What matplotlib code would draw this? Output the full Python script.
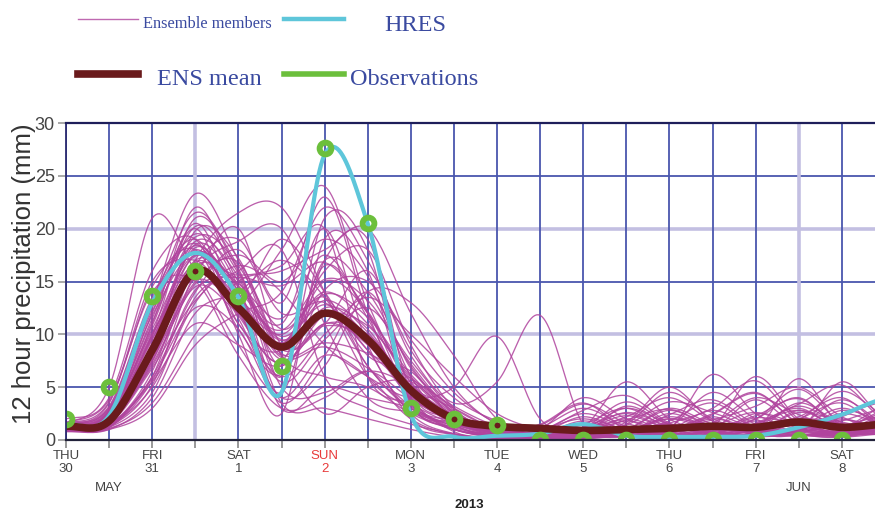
import numpy as np
import matplotlib
matplotlib.use("Agg")
import matplotlib.pyplot as plt
from matplotlib.lines import Line2D

# 12-hourly steps starting Thu 30 May 2013 00 UTC
steps = list(range(20))
tick_days = ["THU", "", "FRI", "", "SAT", "", "SUN", "", "MON", "", "TUE", "",
             "WED", "", "THU", "", "FRI", "", "SAT"]
tick_dates = ["30", "", "31", "", "1", "", "2", "", "3", "", "4", "",
              "5", "", "6", "", "7", "", "8"]
month_labels = [(1, "MAY"), (17, "JUN")]
year_label = "2013"

observations = [2.0, 5.0, 13.6, 16.0, 13.6, 7.0, 27.6, 20.5, 3.0, 2.0, 1.4,
                0.0, 0.0, 0.0, 0.0, 0.0, 0.0, 0.0, 0.0]
hres = [1.5, 2.3, 13.0, 17.7, 13.5, 4.5, 27.0, 20.5, 2.4, 0.3, 0.4, 0.6,
        1.5, 0.4, 0.3, 0.3, 0.4, 1.2, 2.4, 3.9]
ens_mean = [1.3, 1.8, 8.5, 16.0, 12.5, 8.8, 12.0, 9.5, 4.7, 2.0, 1.3, 1.1,
            0.9, 1.0, 1.1, 1.3, 1.2, 1.7, 1.2, 1.5]

members = [
    [1.2, 1.6, 9.0, 18.5, 14.0, 3.0, 5.0, 4.0, 3.0, 1.0, 0.3, 0.2, 0.5, 1.2, 0.8, 2.0, 1.0, 0.5, 0.8, 1.2],
    [1.0, 2.0, 12.0, 20.0, 11.0, 8.5, 15.0, 12.0, 4.0, 0.8, 0.1, 0.0, 0.3, 0.6, 2.5, 1.0, 0.4, 2.0, 1.5, 0.8],
    [1.5, 3.5, 15.0, 17.0, 13.5, 19.0, 14.0, 8.0, 6.5, 2.0, 0.5, 1.0, 2.0, 1.0, 0.5, 0.3, 1.5, 3.0, 1.0, 2.0],
    [0.9, 1.2, 6.0, 14.0, 18.0, 12.0, 13.0, 8.5, 5.0, 3.0, 1.0, 0.5, 0.2, 0.4, 1.0, 2.5, 4.5, 1.5, 0.5, 1.0],
    [1.3, 2.2, 10.0, 21.0, 16.0, 7.0, 17.0, 14.0, 7.0, 2.5, 0.8, 0.3, 1.0, 3.0, 1.5, 0.6, 0.8, 1.0, 2.5, 1.5],
    [2.0, 4.0, 16.0, 19.0, 10.0, 2.5, 19.0, 16.0, 3.5, 1.2, 0.5, 0.2, 0.1, 0.5, 0.8, 1.5, 0.5, 0.8, 0.3, 0.6],
    [1.0, 1.5, 5.0, 13.0, 16.5, 14.0, 9.0, 6.0, 4.0, 5.0, 9.8, 2.0, 0.5, 0.3, 1.2, 0.8, 2.0, 4.0, 1.0, 0.5],
    [1.1, 1.8, 7.5, 15.5, 20.0, 9.0, 11.0, 16.0, 8.0, 3.5, 5.5, 11.8, 1.5, 0.5, 0.2, 0.6, 1.0, 0.8, 1.8, 3.0],
    [1.4, 2.5, 11.0, 22.0, 15.0, 11.0, 20.0, 9.0, 2.5, 0.6, 0.2, 0.1, 0.4, 1.5, 4.5, 2.0, 0.8, 0.4, 0.6, 1.0],
    [0.8, 1.0, 4.0, 12.0, 14.0, 17.0, 13.5, 7.0, 3.0, 1.5, 0.8, 0.5, 1.2, 5.5, 2.0, 0.8, 0.3, 1.2, 2.0, 1.0],
    [1.6, 5.0, 21.0, 16.0, 9.0, 4.0, 8.0, 6.0, 2.0, 0.5, 0.1, 0.3, 0.8, 0.4, 1.0, 6.2, 2.5, 1.0, 0.4, 0.8],
    [1.2, 2.8, 13.0, 23.3, 17.0, 8.0, 6.0, 5.0, 2.5, 1.0, 0.4, 0.2, 0.2, 1.8, 0.6, 0.4, 1.0, 2.2, 4.0, 1.2],
    [1.0, 1.4, 6.5, 17.0, 21.5, 22.0, 14.0, 6.0, 3.0, 1.0, 0.5, 0.8, 1.5, 0.6, 0.3, 1.2, 6.0, 2.0, 0.8, 2.5],
    [1.3, 2.0, 8.0, 16.0, 13.0, 18.0, 24.0, 13.0, 5.0, 2.0, 1.0, 0.4, 0.3, 0.8, 1.5, 0.5, 0.3, 0.6, 1.5, 0.8],
    [0.9, 1.1, 3.5, 10.0, 15.0, 16.0, 18.0, 20.0, 12.0, 5.0, 1.5, 0.6, 0.5, 0.3, 0.7, 2.2, 1.0, 5.8, 1.2, 0.5],
    [1.4, 2.4, 9.5, 18.0, 11.5, 4.0, 7.0, 14.0, 13.0, 8.0, 2.0, 0.8, 0.4, 0.6, 2.2, 1.0, 0.5, 0.8, 5.5, 2.0],
    [1.1, 1.9, 7.0, 14.5, 12.0, 9.0, 16.0, 18.0, 9.0, 3.0, 0.6, 0.2, 1.2, 2.5, 1.0, 0.4, 2.5, 1.5, 0.6, 1.0],
    [1.5, 3.0, 12.5, 19.5, 14.5, 3.5, 3.0, 2.0, 1.0, 0.3, 0.1, 0.0, 0.2, 0.5, 1.8, 3.5, 1.2, 0.5, 0.3, 0.8],
    [1.0, 1.3, 5.5, 11.0, 9.0, 7.0, 11.0, 9.0, 4.0, 2.0, 0.8, 1.5, 3.5, 1.0, 0.4, 0.8, 1.5, 2.8, 1.0, 0.5],
    [1.2, 2.1, 10.5, 17.5, 13.0, 10.0, 14.0, 11.0, 6.0, 2.5, 1.2, 0.5, 0.4, 1.0, 3.0, 1.5, 0.6, 1.0, 2.2, 4.0],
    [1.7, 3.8, 14.0, 15.0, 8.0, 3.0, 4.0, 6.5, 5.0, 1.5, 0.3, 0.2, 0.6, 2.0, 0.8, 0.3, 0.8, 3.5, 1.5, 0.6],
    [0.9, 1.5, 6.0, 16.5, 19.0, 13.0, 23.0, 12.0, 3.5, 1.8, 0.6, 0.3, 0.8, 0.4, 1.2, 4.5, 2.0, 0.6, 0.3, 1.5],
    [1.3, 2.6, 11.5, 20.5, 12.5, 5.5, 9.5, 12.5, 7.5, 2.8, 0.9, 0.4, 0.2, 0.8, 0.5, 1.0, 3.8, 1.2, 0.8, 2.2],
    [1.1, 1.7, 7.8, 15.0, 17.5, 15.0, 19.0, 15.5, 6.0, 1.5, 0.4, 0.8, 2.5, 1.2, 0.6, 0.3, 1.0, 2.0, 3.5, 1.0],
    [1.4, 2.3, 9.8, 18.8, 15.5, 8.0, 12.5, 10.5, 4.5, 1.6, 0.7, 0.4, 1.0, 2.2, 4.0, 1.8, 0.6, 0.4, 1.0, 2.8],
    [1.0, 1.2, 4.5, 13.5, 16.0, 18.0, 6.0, 3.0, 1.5, 0.6, 0.2, 0.5, 1.8, 0.8, 0.4, 1.0, 2.0, 4.8, 1.6, 0.7],
    [1.6, 3.2, 13.5, 19.0, 12.0, 7.5, 16.5, 12.0, 5.5, 2.2, 1.0, 0.6, 0.3, 1.0, 2.8, 1.2, 0.8, 1.5, 0.5, 1.2],
    [1.2, 1.9, 8.5, 17.0, 14.5, 9.5, 12.0, 8.5, 2.0, 0.5, 0.3, 1.0, 4.0, 2.0, 0.6, 0.5, 1.8, 0.9, 2.8, 1.8],
    [0.8, 1.0, 3.0, 9.0, 12.0, 14.0, 22.0, 17.0, 8.5, 4.0, 1.8, 0.7, 0.5, 0.4, 1.0, 2.8, 1.2, 0.6, 0.4, 1.0],
    [1.3, 2.4, 10.0, 16.5, 11.0, 6.0, 10.0, 13.5, 10.0, 6.0, 2.5, 1.0, 0.6, 3.2, 1.4, 0.6, 0.4, 1.2, 3.0, 1.5],
    [1.1, 1.6, 7.2, 14.8, 16.8, 8.0, 2.5, 5.0, 5.5, 2.2, 0.8, 0.3, 0.5, 1.1, 0.7, 1.6, 4.0, 2.4, 0.9, 0.6],
    [1.5, 2.9, 12.8, 21.5, 16.5, 10.5, 13.5, 7.0, 2.8, 1.0, 0.2, 0.1, 0.3, 0.9, 2.0, 1.0, 0.5, 2.8, 1.3, 3.2],
    [1.0, 1.4, 5.8, 12.5, 10.5, 3.5, 8.0, 14.0, 6.8, 3.0, 1.1, 0.5, 1.4, 0.6, 0.3, 0.9, 1.4, 0.7, 1.9, 1.1],
    [1.2, 2.0, 9.2, 18.2, 13.8, 7.8, 8.8, 6.8, 3.2, 1.3, 0.5, 0.9, 2.8, 4.2, 1.6, 0.5, 0.3, 1.0, 0.6, 1.4],
    [1.4, 2.7, 11.8, 17.8, 14.8, 11.5, 17.5, 11.5, 3.8, 1.1, 0.3, 0.2, 0.7, 1.4, 3.6, 2.6, 1.1, 0.5, 0.8, 2.0],
    [0.9, 1.3, 5.2, 15.8, 18.8, 20.0, 11.0, 4.0, 2.6, 1.4, 0.9, 0.4, 0.2, 0.6, 1.1, 1.9, 3.2, 5.0, 2.2, 0.9],
    [1.3, 2.2, 9.6, 16.2, 12.8, 9.2, 13.2, 10.2, 5.2, 2.4, 0.9, 0.6, 1.6, 0.9, 0.5, 1.3, 2.6, 1.1, 0.5, 1.7],
    [1.1, 1.8, 8.2, 19.8, 17.2, 8.6, 10.8, 9.6, 4.8, 1.9, 0.6, 0.3, 0.9, 2.6, 1.3, 0.7, 0.5, 1.9, 4.6, 2.4],
    [1.6, 3.6, 14.5, 18.0, 10.5, 6.2, 14.2, 15.0, 9.5, 4.5, 1.6, 0.8, 0.4, 0.7, 2.4, 3.8, 1.5, 0.6, 0.4, 0.9],
    [1.0, 1.5, 6.8, 13.2, 15.2, 6.0, 21.0, 18.0, 3.6, 1.7, 0.7, 1.2, 3.0, 1.3, 0.6, 0.4, 1.2, 3.2, 1.4, 0.7],
    [1.2, 2.1, 9.9, 17.4, 14.2, 9.8, 12.8, 9.8, 4.2, 1.8, 0.6, 0.3, 0.6, 1.7, 5.0, 1.8, 0.7, 0.5, 1.1, 2.6],
    [1.4, 2.6, 10.8, 20.2, 15.8, 8.2, 9.2, 8.2, 5.8, 3.2, 1.3, 0.5, 0.3, 0.8, 1.6, 3.0, 5.6, 1.8, 0.7, 1.2],
    [1.0, 1.6, 7.4, 16.8, 13.4, 10.4, 15.2, 13.2, 7.2, 2.6, 0.8, 0.2, 1.1, 3.6, 1.5, 0.6, 0.4, 1.3, 3.8, 1.6],
    [1.3, 2.3, 10.2, 15.2, 12.2, 4.5, 17.0, 19.0, 4.6, 2.1, 0.9, 0.7, 2.2, 0.9, 0.4, 1.1, 2.3, 3.9, 1.2, 0.8],
    [1.5, 3.1, 13.2, 18.6, 11.8, 7.2, 11.8, 10.8, 5.8, 2.3, 0.7, 0.4, 0.8, 1.9, 2.9, 1.3, 0.6, 0.9, 2.4, 3.6],
    [1.1, 1.7, 7.6, 16.4, 15.6, 16.5, 20.0, 6.0, 3.4, 1.5, 0.4, 0.2, 0.5, 1.0, 0.6, 2.4, 4.4, 1.6, 0.6, 1.3],
    [1.2, 2.0, 8.8, 17.6, 14.6, 9.4, 13.8, 11.6, 6.2, 2.7, 1.0, 0.6, 1.5, 3.0, 1.1, 0.5, 0.7, 2.6, 1.7, 0.9],
    [1.3, 2.5, 11.2, 19.2, 16.2, 5.0, 4.5, 6.5, 3.9, 1.6, 0.5, 0.3, 0.4, 0.7, 2.0, 1.4, 0.9, 0.4, 1.3, 2.3],
    [0.9, 1.2, 5.6, 14.2, 15.4, 14.6, 16.8, 12.2, 5.4, 2.0, 0.6, 1.4, 3.4, 1.6, 0.7, 0.3, 1.6, 3.4, 5.2, 1.9],
    [1.4, 2.8, 12.2, 18.4, 13.6, 7.6, 11.0, 10.0, 4.9, 2.2, 0.8, 0.4, 0.9, 2.3, 1.0, 0.6, 2.1, 1.4, 0.6, 1.0],
]

y_ticks = [0, 5, 10, 15, 20, 25, 30]

C_MEMBER = "#b0449e"
C_HRES = "#5ec6da"
C_MEAN = "#6a1a1c"
C_OBS = "#6cbf3c"
C_GRID = "#4a56ae"
C_GRID_LIGHT = "#c3bfe2"
C_LEGEND = "#3a4aa0"
C_TICK = "#444444"


def smooth(vals, n=24):
    """Catmull-Rom curve through 12-hourly values."""
    v = np.asarray(vals, dtype=float)
    p = np.concatenate([[v[0]], v, [v[-1]]])
    t = np.linspace(0.0, 1.0, n, endpoint=False)
    h00 = 2 * t**3 - 3 * t**2 + 1
    h10 = t**3 - 2 * t**2 + t
    h01 = -2 * t**3 + 3 * t**2
    h11 = t**3 - t**2
    xs, ys = [], []
    for i in range(len(v) - 1):
        p0, p1, p2, p3 = p[i], p[i + 1], p[i + 2], p[i + 3]
        m1 = (p2 - p0) / 2.0
        m2 = (p3 - p1) / 2.0
        xs.append(i + t)
        ys.append(h00 * p1 + h10 * m1 + h01 * p2 + h11 * m2)
    xs.append([len(v) - 1])
    ys.append([v[-1]])
    return np.concatenate(xs), np.concatenate(ys)


W, H = 875, 513
fig = plt.figure(figsize=(W / 100, H / 100), dpi=100)
fig.patch.set_facecolor("white")

ax_left, ax_right, ax_top, ax_bottom = 66, 875, 123, 440
ax = fig.add_axes([ax_left / W, 1 - ax_bottom / H,
                   (ax_right - ax_left) / W, (ax_bottom - ax_top) / H])
ax.set_xlim(0, 18.77)
ax.set_ylim(0, 30)

# grid
for yv in y_ticks[1:-1]:
    light = yv in (10, 20)
    ax.axhline(yv, color=C_GRID_LIGHT if light else C_GRID,
               lw=2.6 if light else 1.3, zorder=1)
for i in range(len(tick_days)):
    light = i in (3, 17)
    ax.axvline(i, color=C_GRID_LIGHT if light else C_GRID,
               lw=2.6 if light else 1.3, zorder=1)

for m in members:
    xs, ys = smooth(m)
    ax.plot(xs, ys, color=C_MEMBER, lw=0.95, alpha=0.85, zorder=2)

xs, ys = smooth(hres)
ax.plot(xs, ys, color=C_HRES, lw=3.0, zorder=3, solid_capstyle="round")
xs, ys = smooth(ens_mean)
ax.plot(xs, ys, color=C_MEAN, lw=5.5, zorder=4, solid_capstyle="round")
ax.plot(steps[:len(observations)], observations, linestyle="none", marker="o",
        markersize=8.5, markeredgewidth=4.2, markerfacecolor="none",
        markeredgecolor=C_OBS, zorder=5)

# spines and ticks
ax.spines["right"].set_visible(False)
ax.spines["top"].set_color("#1e1e5a")
ax.spines["top"].set_linewidth(1.6)
ax.spines["left"].set_color("#2a2a70")
ax.spines["left"].set_linewidth(1.3)
ax.spines["bottom"].set_color("#22223a")
ax.spines["bottom"].set_linewidth(1.6)
for s in ax.spines.values():
    s.set_zorder(6)

ax.set_yticks(y_ticks)
ax.set_yticklabels([str(v) for v in y_ticks], fontsize=13,
                   family="Liberation Sans", color=C_TICK)
ax.tick_params(axis="y", length=6, width=1.2, color="#999999", pad=2)

ax.set_xticks(range(len(tick_days)))
ax.set_xticklabels([])
ax.tick_params(axis="x", length=6, width=1.2, color="#888888")

xt = ax.get_xaxis_transform()
axh = ax_bottom - ax_top
for i, (d, n) in enumerate(zip(tick_days, tick_dates)):
    if not d:
        continue
    col = "#e83a3a" if d == "SUN" else C_TICK
    ax.text(i, -(456 - ax_bottom) / axh, d, transform=xt, ha="center",
            va="center", fontsize=9.5, family="Liberation Sans", color=col)
    ax.text(i, -(469 - ax_bottom) / axh, n, transform=xt, ha="center",
            va="center", fontsize=9.5, family="Liberation Sans", color=col)
for i, lab in month_labels:
    ax.text(i, -(488 - ax_bottom) / axh, lab, transform=xt, ha="center",
            va="center", fontsize=9.5, family="Liberation Sans", color=C_TICK)
ax.text(9.35, -(505 - ax_bottom) / axh, year_label, transform=xt, ha="center",
        va="center", fontsize=9.5, family="Liberation Sans", color="#222222",
        fontweight="bold")

fig.text(24 / W, 1 - 274 / H, "12 hour precipitation (mm)", rotation=90,
         ha="center", va="center", fontsize=18.5, family="Liberation Sans",
         color="#333333")


# legend drawn in figure pixels
def fx(px):
    return px / W


def fy(py):
    return 1 - py / H


fig.add_artist(Line2D([fx(78), fx(138)], [fy(19), fy(19)], color=C_MEMBER,
                      lw=1.0, alpha=0.8))
fig.text(fx(143), fy(28), "Ensemble members", fontsize=11.8,
         family="Liberation Serif", color=C_LEGEND, va="baseline")
fig.add_artist(Line2D([fx(284), fx(344)], [fy(19), fy(19)], color=C_HRES,
                      lw=3.2))
fig.text(fx(384), fy(31), "HRES", fontsize=17.5, family="Liberation Serif",
         color=C_LEGEND, va="baseline")
fig.add_artist(Line2D([fx(78), fx(138)], [fy(74), fy(74)], color=C_MEAN,
                      lw=5.5))
fig.text(fx(157), fy(85), "ENS mean", fontsize=17.5,
         family="Liberation Serif", color=C_LEGEND, va="baseline")
fig.add_artist(Line2D([fx(284), fx(344)], [fy(74), fy(74)], color=C_OBS,
                      lw=4.0))
fig.text(fx(350), fy(85), "Observations", fontsize=17.5,
         family="Liberation Serif", color=C_LEGEND, va="baseline")

fig.savefig("out.png", dpi=100, facecolor="white")
